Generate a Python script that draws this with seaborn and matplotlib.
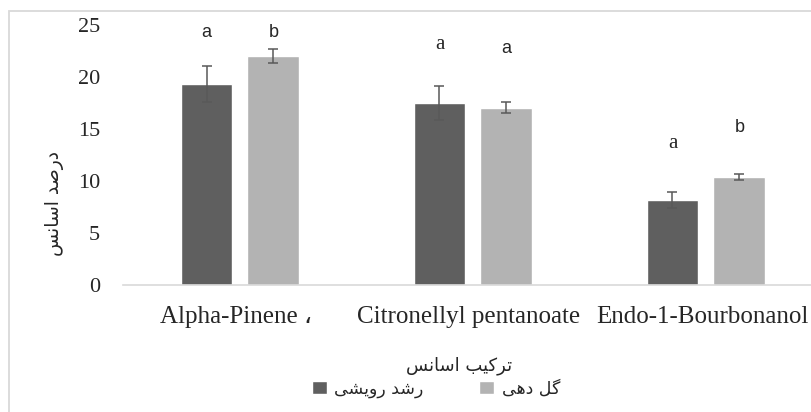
import numpy as np
import pandas as pd
import seaborn as sns
import matplotlib.pyplot as plt
from matplotlib.patches import Rectangle, Patch
from matplotlib.transforms import ScaledTranslation

# ---- data ----
compounds = ['Alpha-Pinene \u060c', 'Citronellyl pentanoate', 'Endo-1-Bourbonanol']
stages = ['رشد رویشی', 'گل دهی']
vegetative = [19.3, 17.5, 8.2]
vegetative_err = [1.75, 1.6, 0.75]
flowering = [22.0, 17.05, 10.4]
flowering_err = [0.65, 0.55, 0.32]
vegetative_sig = ['a', 'a', 'a']
flowering_sig = ['b', 'a', 'b']
yticks = [0, 5, 10, 15, 20, 25]
ylabel = 'درصد اسانس'
xlabel = 'ترکیب اسانس'

# letter heights (text placement, data units)
vegetative_sig_y = [24.3, 23.1, 13.6]
flowering_sig_y = [24.3, 22.7, 15.1]
vegetative_sig_font = ['Liberation Sans', 'Liberation Serif', 'Liberation Serif']
flowering_sig_font = ['Liberation Sans', 'Liberation Sans', 'Liberation Sans']

DARK = '#5f5f5f'
LIGHT = '#b3b3b3'


### tiny arabic/persian shaper (matplotlib does no shaping or bidi)
FORMS = {
    'ا': (0xFE8D, 0xFE8E, None, None),
    'ب': (0xFE8F, 0xFE90, 0xFE91, 0xFE92),
    'ت': (0xFE95, 0xFE96, 0xFE97, 0xFE98),
    'د': (0xFEA9, 0xFEAA, None, None),
    'ر': (0xFEAD, 0xFEAE, None, None),
    'س': (0xFEB1, 0xFEB2, 0xFEB3, 0xFEB4),
    'ش': (0xFEB5, 0xFEB6, 0xFEB7, 0xFEB8),
    'ص': (0xFEB9, 0xFEBA, 0xFEBB, 0xFEBC),
    'ل': (0xFEDD, 0xFEDE, 0xFEDF, 0xFEE0),
    'ن': (0xFEE5, 0xFEE6, 0xFEE7, 0xFEE8),
    'ه': (0xFEE9, 0xFEEA, 0xFEEB, 0xFEEC),
    'و': (0xFEED, 0xFEEE, None, None),
    'ک': (0xFB8E, 0xFB8F, 0xFB90, 0xFB91),
    'گ': (0xFB92, 0xFB93, 0xFB94, 0xFB95),
    'ی': (0xFBFC, 0xFBFD, 0xFBFE, 0xFBFF),
}

def dual(ch):
    return ch in FORMS and FORMS[ch][2] is not None

def shape(text):
    out = []
    for i, ch in enumerate(text):
        if ch not in FORMS:
            out.append(ch)
            continue
        prev = text[i - 1] if i > 0 else ' '
        nxt = text[i + 1] if i < len(text) - 1 else ' '
        jp = dual(prev)
        jn = dual(ch) and nxt in FORMS
        iso, fin, ini, med = FORMS[ch]
        if jp and jn:
            cp = med
        elif jp:
            cp = fin
        elif jn:
            cp = ini
        else:
            cp = iso
        out.append(chr(cp))
    return ''.join(out)[::-1]


df = pd.DataFrame({
    'compound': compounds * 2,
    'stage': [stages[0]] * 3 + [stages[1]] * 3,
    'value': vegetative + flowering,
})

sns.set_style('white')
plt.rcParams['font.family'] = ['Liberation Serif', 'DejaVu Sans']

fig = plt.figure(figsize=(8.12, 4.12), dpi=100)
ax = fig.add_axes([123.5 / 812, 127 / 412, 688.5 / 812, 260 / 412])

sns.barplot(data=df, x='compound', y='value', hue='stage', hue_order=stages,
            palette=[DARK, LIGHT], width=0.575, gap=0.224, errorbar=None,
            legend=False, ax=ax)

errs = [vegetative_err, flowering_err]
vals = [vegetative, flowering]
sigs = [vegetative_sig, flowering_sig]
sig_ys = [vegetative_sig_y, flowering_sig_y]
sig_fonts = [vegetative_sig_font, flowering_sig_font]
for cont, v, e, s, sy, sf in zip(ax.containers, vals, errs, sigs, sig_ys, sig_fonts):
    xs = [b.get_x() + b.get_width() / 2 for b in cont]
    ax.errorbar(xs, v, yerr=e, fmt='none', ecolor='#595959', elinewidth=1.1,
                capsize=3.5, capthick=1.1)
    for x, letter, y, fam in zip(xs, s, sy, sf):
        size = 15 if fam == 'Liberation Serif' else 13
        ax.text(x, y, letter, ha='center', va='center', fontsize=size, family=fam)

ax.set_xlim(-0.5, 2.455)
ax.set_ylim(0, 25)
ax.set_yticks(yticks)
ax.set_yticklabels([str(t) for t in yticks], fontsize=16)
ax.tick_params(axis='y', length=0, pad=17)
ax.tick_params(axis='x', length=0, pad=15, labelsize=18)
# category labels sit a few pixels left of the group centres
shift = ScaledTranslation(-4 / 100, 0, fig.dpi_scale_trans)
for lab in ax.get_xticklabels():
    lab.set_transform(lab.get_transform() + shift)

for side in ['left', 'top', 'right']:
    ax.spines[side].set_visible(False)
ax.spines['bottom'].set_color('#d9d9d9')
ax.spines['bottom'].set_linewidth(1.2)

ax.set_ylabel(shape(ylabel), fontsize=13.5, family='DejaVu Sans')
ax.yaxis.set_label_coords(-0.087, 0.315)
ax.set_xlabel(shape(xlabel), fontsize=13, family='DejaVu Sans')
ax.xaxis.label.set_va('center')
ax.xaxis.set_label_coords(0.487, -0.31)

handles = [Patch(facecolor=DARK), Patch(facecolor=LIGHT)]
ax.legend(handles, [shape(s) for s in stages], loc='center', ncol=2,
          bbox_to_anchor=(436 / 812, 23 / 412), bbox_transform=fig.transFigure,
          frameon=False, prop={'family': 'DejaVu Sans', 'size': 12.5},
          handlelength=0.85, handleheight=0.8, handletextpad=0.45,
          columnspacing=3.2)

# thin grey chart-area border (only top and left edges fall inside the crop)
fig.add_artist(Rectangle((9 / 812, -1), 2, 1 + 401.5 / 412,
                         transform=fig.transFigure, fill=False,
                         edgecolor='#d9d9d9', linewidth=1.3, clip_on=False))

fig.savefig('out.png', dpi=100)
